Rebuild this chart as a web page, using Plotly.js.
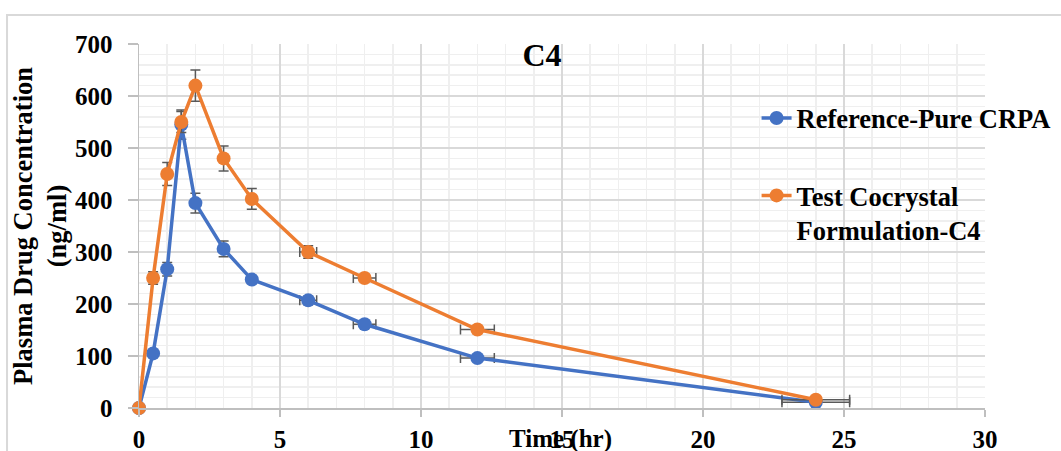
<!DOCTYPE html>
<html>
<head>
<meta charset="utf-8">
<script src="https://cdn.plot.ly/plotly-3.0.1.min.js"></script>
<style>html,body{margin:0;padding:0;background:#fff;}#chart{width:1061px;height:451px;}</style>
</head>
<body>
<div id="chart"></div>
<script>
const times = [0, 0.5, 1, 1.5, 2, 3, 4, 6, 8, 12, 24];
const refName = "Reference-Pure CRPA";
const refValues = [0, 105, 267, 545, 394, 306, 247, 207, 161, 96, 11];
const refErrY = [0, 4, 13, 28, 19, 15, 6, 8, 5, 4, 3];
const testName = "Test Cocrystal<br>Formulation-C4";
const testValues = [0, 250, 450, 550, 620, 480, 402, 300, 250, 151, 16];
const testErrY = [0, 12, 22, 20, 30, 24, 20, 12, 6, 5, 3];
const timeErr = [0, 0, 0, 0, 0, 0, 0, 0.3, 0.4, 0.6, 1.2];
const chartTitle = "C4";
const xTitle = "Time (hr)";
const yTitle = "Plasma Drug Concentration<br>(ng/ml)";

const FONT = "Liberation Serif, Times New Roman, serif";
const errStyle = {color: "#595959", thickness: 1.5, width: 5};

function series(name, y, errY, color, group) {
  return {
    type: "scatter", mode: "lines+markers", name: name, x: times, y: y,
    legendgroup: group, cliponaxis: false,
    line: {color: color, width: 3.5},
    marker: {color: color, size: 14},
    error_y: Object.assign({type: "data", array: errY, visible: true}, errStyle),
    error_x: Object.assign({type: "data", array: timeErr, visible: true}, errStyle)
  };
}

const data = [
  series(refName, refValues, refErrY, "#4472C4", "a"),
  series(testName, testValues, testErrY, "#ED7D31", "b")
];

const layout = {
  width: 1061, height: 451,
  margin: {l: 139, r: 76, t: 44, b: 43, autoexpand: false},
  paper_bgcolor: "#ffffff", plot_bgcolor: "#ffffff",
  font: {family: FONT, color: "#000000", weight: "bold"},
  title: {text: chartTitle, font: {family: FONT, size: 32, weight: "bold", color: "#000"},
          xref: "paper", x: 0.4764, xanchor: "center", yref: "container", y: 0.879, yanchor: "middle"},
  showlegend: true,
  legend: {x: 0.73, xanchor: "left", y: 0.862, yanchor: "top", bgcolor: "rgba(0,0,0,0)",
           font: {family: FONT, size: 26.5, weight: "bold", color: "#000"},
           tracegroupgap: 40, valign: "top"},
  xaxis: {
    range: [0, 30], dtick: 5, tick0: 0, showgrid: true, gridcolor: "#d9d9d9", gridwidth: 1.5,
    minor: {dtick: 1, showgrid: true, gridcolor: "#efefef", gridwidth: 1.5},
    showline: true, linecolor: "#bfbfbf", linewidth: 1.5, ticks: "outside", ticklen: 7,
    tickcolor: "#bfbfbf", tickwidth: 1.5, zeroline: false, ticklabelstandoff: 1,
    tickfont: {family: FONT, size: 25, weight: "bold", color: "#000"}
  },
  yaxis: {
    range: [0, 700], dtick: 100, tick0: 0, showgrid: true, gridcolor: "#d9d9d9", gridwidth: 1.5,
    minor: {dtick: 20, showgrid: true, gridcolor: "#efefef", gridwidth: 1.5},
    showline: true, linecolor: "#bfbfbf", linewidth: 1.5, ticks: "outside", ticklen: 10,
    tickcolor: "#bfbfbf", tickwidth: 1.5, zeroline: false, ticklabelstandoff: 10,
    tickfont: {family: FONT, size: 25, weight: "bold", color: "#000"},
    title: {text: yTitle, font: {family: FONT, size: 26.5, weight: "bold", color: "#000"}, standoff: 0}
  },
  annotations: [{
    text: xTitle, xref: "paper", yref: "paper", x: 0.4988, y: -0.085,
    xanchor: "center", yanchor: "middle", showarrow: false,
    font: {family: FONT, size: 25, weight: "bold", color: "#000"}
  }],
  shapes: [{
    type: "rect", xref: "paper", yref: "paper", layer: "below",
    x0: -0.156, x1: 1.2, y0: -0.3, y1: 1.0797,
    line: {color: "#d9d9d9", width: 2}, fillcolor: "rgba(0,0,0,0)"
  }]
};

Plotly.newPlot("chart", data, layout, {displayModeBar: false, staticPlot: true});
</script>
</body>
</html>
